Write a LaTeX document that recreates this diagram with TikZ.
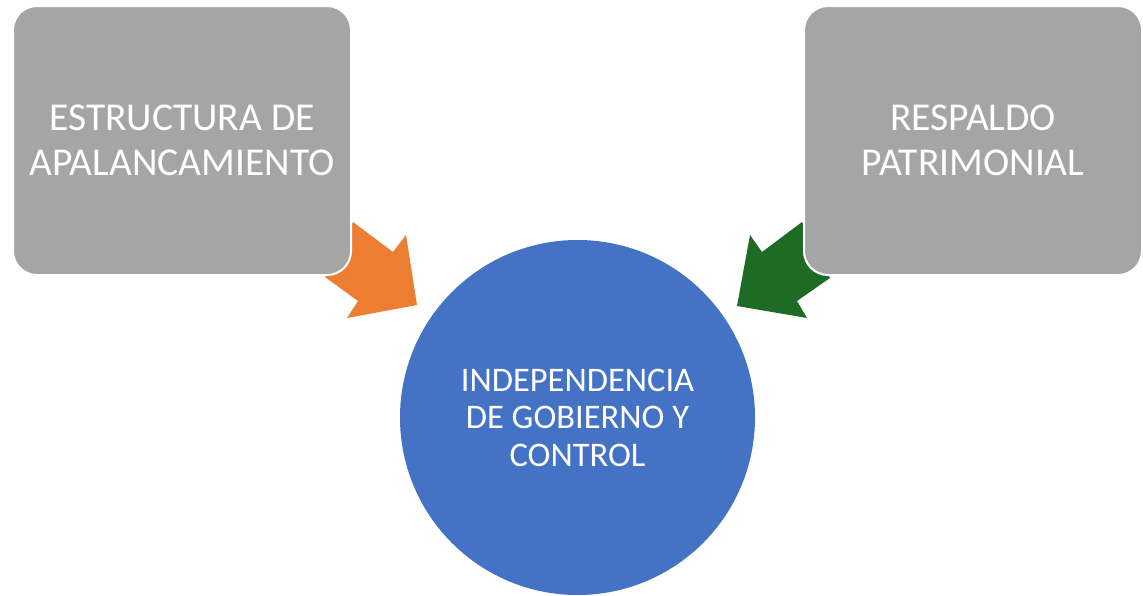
\documentclass[tikz,border=0pt]{standalone}
\usepackage{fontspec}
\setmainfont{Carlito}
\definecolor{boxgray}{HTML}{A5A5A5}
\definecolor{arrorange}{HTML}{ED7D31}
\definecolor{arrgreen}{HTML}{1D6B25}
\definecolor{circblue}{HTML}{4472C4}
\begin{document}
\begin{tikzpicture}[x=1pt,y=-1pt,
  sidebox/.style={draw=white,line width=2pt,fill=boxgray,rounded corners=24pt,minimum width=338pt,minimum height=269pt,inner sep=0pt,text=white,align=center,font=\fontsize{39.5}{45}\selectfont},
  maincirc/.style={circle,fill=circblue,minimum size=355pt,inner sep=0pt,text=white,align=center,font=\fontsize{34.5}{37.5}\selectfont}]
\useasboundingbox (0,0) rectangle (1143,595);
% arrows (drawn under boxes)
\fill[arrorange] (353,222) -- (393,252) -- (406,235) -- (417,305) -- (347,318) -- (358,301) -- (325,277) -- cycle;
\fill[arrgreen] (802,222) -- (762,252) -- (750,235) -- (737,306) -- (807,318) -- (797,301) -- (830,278) -- cycle;
\node[sidebox] (left) at (182,140.5) {ESTRUCTURA DE\\APALANCAMIENTO};
\node[sidebox] (right) at (973,140.5) {RESPALDO\\PATRIMONIAL};
\node[maincirc] (center) at (577.5,417.5) {INDEPENDENCIA\\DE GOBIERNO Y\\CONTROL};
\end{tikzpicture}
\end{document}
